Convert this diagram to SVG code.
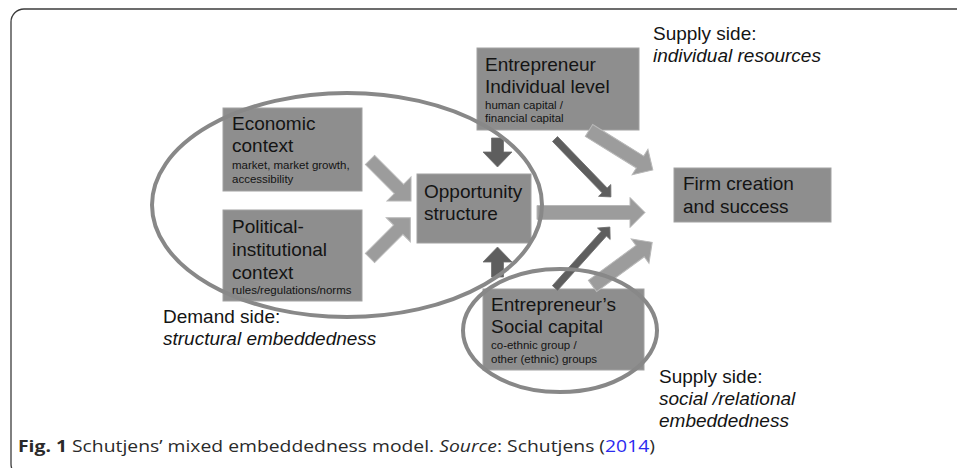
<svg xmlns="http://www.w3.org/2000/svg" width="957" height="468" viewBox="0 0 957 468">
  <style>
    .box { fill: #8e8e8e; stroke: #a2a2a2; stroke-width: 1; }
    .t { font-family: "Liberation Sans", Arial, sans-serif; fill: #141414; }
    .big { font-size: 19px; }
    .small { font-size: 11.5px; }
    .it { font-style: italic; }
    .light { fill: #9c9c9c; stroke: #b8b8b8; stroke-width: 1; }
    .dark { fill: #5e5e5e; stroke: #6e6e6e; stroke-width: 0.8; }
    .ring { fill: none; stroke: #888888; stroke-width: 4; }
    .cap { font-family: "Open Sans", "Noto Sans", sans-serif; font-size: 16.5px; fill: #2a2a2a; }
  </style>

  <!-- figure frame -->
  <rect x="11" y="9" width="970" height="468" rx="13" fill="#ffffff" stroke="#3c3c3c" stroke-width="1.3"/>

  <!-- nodes -->
  <g id="economic-context">
    <rect class="box" x="223" y="108" width="139" height="83"/>
    <text class="t big" x="232" y="130">Economic</text>
    <text class="t big" x="232" y="152">context</text>
    <text class="t small" x="232" y="169">market, market growth,</text>
    <text class="t small" x="232" y="183">accessibility</text>
  </g>

  <g id="political-institutional-context">
    <rect class="box" x="223" y="210" width="139" height="91"/>
    <text class="t big" x="232" y="233">Political-</text>
    <text class="t big" x="232" y="256">institutional</text>
    <text class="t big" x="232" y="279">context</text>
    <text class="t small" x="232" y="294">rules/regulations/norms</text>
  </g>

  <g id="opportunity-structure">
    <rect class="box" x="417" y="174" width="114" height="69"/>
    <text class="t big" x="424" y="198">Opportunity</text>
    <text class="t big" x="424" y="220">structure</text>
  </g>

  <g id="entrepreneur-individual">
    <rect class="box" x="477" y="48" width="162" height="82"/>
    <text class="t big" x="485" y="71">Entrepreneur</text>
    <text class="t big" x="485" y="93">Individual level</text>
    <text class="t small" x="485" y="109">human capital /</text>
    <text class="t small" x="485" y="122">financial capital</text>
  </g>

  <g id="firm-creation">
    <rect class="box" x="674" y="168" width="157" height="54"/>
    <text class="t big" x="683" y="190">Firm creation</text>
    <text class="t big" x="683" y="213">and success</text>
  </g>

  <g id="social-capital">
    <rect class="box" x="483" y="289" width="161" height="81"/>
    <text class="t big" x="491" y="311">Entrepreneur’s</text>
    <text class="t big" x="491" y="333">Social capital</text>
    <text class="t small" x="491" y="349">co-ethnic group /</text>
    <text class="t small" x="491" y="363">other (ethnic) groups</text>
  </g>

  <!-- connectors: block arrows drawn along +x, then placed and rotated -->
  <g id="connectors">
    <!-- economic -> opportunity -->
    <polygon class="light" transform="translate(370,160) rotate(45)" points="0,-6.5 41,-6.5 41,-17 58,0 41,17 41,6.5 0,6.5"/>
    <!-- political -> opportunity -->
    <polygon class="light" transform="translate(370,258) rotate(-45)" points="0,-6.5 40,-6.5 40,-17 57,0 40,17 40,6.5 0,6.5"/>
    <!-- individual level -> opportunity -->
    <polygon class="dark" transform="translate(497.5,138) rotate(90)" points="0,-6 14,-6 14,-14.5 29,0 14,14.5 14,6 0,6"/>
    <!-- social capital -> opportunity -->
    <polygon class="dark" transform="translate(497.5,277) rotate(-90)" points="0,-6 15,-6 15,-14.5 30,0 15,14.5 15,6 0,6"/>
    <!-- opportunity -> firm -->
    <polygon class="light" transform="translate(537,212.5)" points="0,-7 93,-7 93,-15 108,0 93,15 93,7 0,7"/>
    <!-- individual level -> firm -->
    <polygon class="light" transform="translate(589,130.5) rotate(31.7)" points="0,-7 60,-7 60,-15 75,0 60,15 60,7 0,7"/>
    <!-- social capital -> firm -->
    <polygon class="light" transform="translate(592.5,286) rotate(-36.2)" points="0,-7 59,-7 59,-15 74,0 59,15 59,7 0,7"/>
    <!-- individual level -> opportunity/firm link -->
    <polygon class="dark" transform="translate(555,139) rotate(46)" points="0,-3.5 71.5,-3.5 71.5,-8.5 80.5,0 71.5,8.5 71.5,3.5 0,3.5"/>
    <!-- social capital -> opportunity/firm link -->
    <polygon class="dark" transform="translate(555,288) rotate(-48)" points="0,-3.5 73,-3.5 73,-8.5 82,0 73,8.5 73,3.5 0,3.5"/>
  </g>

  <!-- embeddedness regions -->
  <g id="regions">
    <ellipse class="ring" cx="347" cy="205" rx="195" ry="112"/>
    <ellipse class="ring" cx="560" cy="330.5" rx="97" ry="61.5"/>
  </g>

  <!-- side labels -->
  <g id="labels">
    <text class="t big" x="653" y="40">Supply side:</text>
    <text class="t big it" x="653" y="62">individual resources</text>
    <text class="t big" x="163" y="323">Demand side:</text>
    <text class="t big it" x="163" y="345">structural embeddedness</text>
    <text class="t big" x="659" y="383">Supply side:</text>
    <text class="t big it" x="659" y="405">social /relational</text>
    <text class="t big it" x="659" y="427">embeddedness</text>
  </g>

  <!-- caption -->
  <text class="cap" x="18" y="452" textLength="637" lengthAdjust="spacingAndGlyphs"><tspan font-weight="bold">Fig. 1</tspan>  Schutjens’ mixed embeddedness model. <tspan font-style="italic">Source</tspan>: Schutjens (<tspan fill="#2b2bf0">2014</tspan>)</text>
</svg>
